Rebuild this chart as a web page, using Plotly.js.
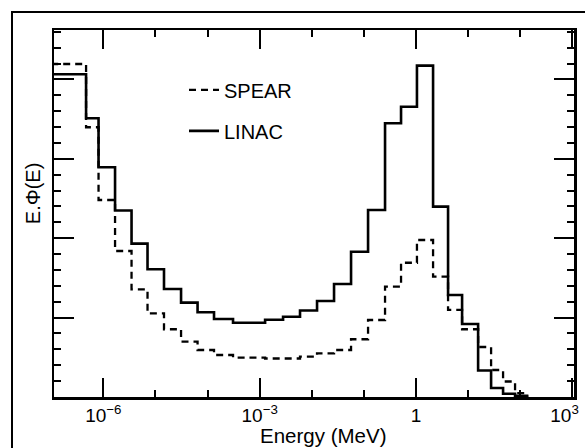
<!DOCTYPE html>
<html><head><meta charset="utf-8">
<script src="https://cdn.plot.ly/plotly-3.0.1.min.js"></script>
<style>
html,body{margin:0;padding:0;background:#fff;overflow:hidden;width:585px;height:448px}
#chart{position:absolute;left:0;top:0;width:585px;height:448px}
#frame{position:absolute;left:11px;top:11px;width:600px;height:500px;border-top:2.6px solid #000;border-left:2.6px solid #000;pointer-events:none}
</style>
</head><body><div id="chart"></div><div id="frame"></div>
<script>
// Bin edges of the spectra (MeV)
const binEdgesMeV = [1e-7, 4.67e-7, 8.1e-7, 1.68e-6, 3.48e-6, 7.05e-6, 1.46e-5, 3.10e-5, 6.43e-5, 1.33e-4,
  3.08e-4, 6.25e-4, 1.27e-3, 2.81e-3, 5.94e-3, 1.26e-2, 2.67e-2, 5.66e-2, 0.120, 0.254,
  0.515, 1.04, 2.12, 4.11, 7.64, 15.5, 27.5, 46.7, 79.3, 135];
// E.Phi(E) per bin (arbitrary units)
const spear = [4.194, 3.397, 2.481, 1.839, 1.356, 1.054, 0.853, 0.697, 0.592, 0.529,
  0.497, 0.495, 0.485, 0.485, 0.508, 0.550, 0.592, 0.727, 0.970, 1.389,
  1.691, 1.977, 1.515, 1.096, 0.853, 0.630, 0.340, 0.195, 0.050];
const linac = [4.064, 3.510, 2.893, 2.349, 1.931, 1.608, 1.360, 1.188, 1.067, 0.982,
  0.936, 0.936, 0.972, 1.011, 1.089, 1.209, 1.423, 1.830, 2.355, 3.447,
  3.656, 4.173, 2.397, 1.285, 0.919, 0.334, 0.113, 0.040, 0.015];
const seriesNames = ['SPEAR', 'LINAC'];
const majorTickVals = [1e-6, 1e-3, 1, 1e3];
const majorTickText = ['10<sup>−6</sup>', '10<sup>−3</sup>', '1', '10<sup>3</sup>\u00a0\u00a0\u00a0'];
const minorTickVals = [1e-7, 1e-6, 1e-5, 1e-4, 1e-3, 1e-2, 1e-1, 1, 10, 100, 1000];
const xTitle = 'Energy (MeV)';
const yTitle = 'E.Φ(E)';

const FONT = '"Liberation Sans", Arial, Helvetica, sans-serif';
function stepY(v) { return v.concat([0]); }

const traces = [
  {x: binEdgesMeV, y: stepY(spear), name: seriesNames[0], type: 'scatter', mode: 'lines',
   line: {shape: 'hv', color: '#000', width: 2.3, dash: '7px,5px'}, legendgroup: 'a'},
  {x: binEdgesMeV, y: stepY(linac), name: seriesNames[1], type: 'scatter', mode: 'lines',
   line: {shape: 'hv', color: '#000', width: 2.6}, legendgroup: 'b'}
];

const layout = {
  width: 585, height: 448,
  margin: {l: 54, r: 11, t: 30, b: 51},
  paper_bgcolor: '#fff', plot_bgcolor: '#fff',
  font: {family: FONT, color: '#000', size: 19},
  showlegend: true,
  legend: {x: 0.25, y: 0.89, xanchor: 'left', yanchor: 'top', bgcolor: 'rgba(0,0,0,0)',
    font: {size: 20}, traceorder: 'grouped', tracegroupgap: 12},
  xaxis: {
    type: 'log', range: [-6.946, 3.03],
    showline: true, linecolor: '#000', linewidth: 2.5, mirror: 'ticks',
    showgrid: false, zeroline: false,
    ticks: 'inside', ticklen: 19, tickwidth: 2, tickcolor: '#000',
    tickmode: 'array', tickvals: majorTickVals, ticktext: majorTickText,
    tickfont: {size: 19}, ticklabeloverflow: 'allow',
    minor: {tickmode: 'array', tickvals: minorTickVals, ticks: 'inside', ticklen: 7, tickwidth: 2, tickcolor: '#000', showgrid: false}
  },
  yaxis: {
    range: [0, 4.622],
    showline: true, linecolor: '#000', linewidth: 2.5, mirror: 'ticks',
    showgrid: false, zeroline: false,
    ticks: 'inside', ticklen: 20, tickwidth: 2, tickcolor: '#000',
    tick0: 0, dtick: 1, showticklabels: false,
    minor: {dtick: 0.2, ticks: 'inside', ticklen: 7, tickwidth: 2, tickcolor: '#000', showgrid: false}
  },
  annotations: [
    {text: xTitle, xref: 'paper', yref: 'paper', x: 0.518, y: -0.106, xanchor: 'center', yanchor: 'middle',
     showarrow: false, font: {size: 20.5}},
    {text: yTitle, xref: 'paper', yref: 'paper', x: -0.04, y: 0.556, xanchor: 'center', yanchor: 'middle',
     textangle: -90, showarrow: false, font: {size: 20}}
  ]
};

Plotly.newPlot('chart', traces, layout, {displayModeBar: false, staticPlot: true});
</script>
</body></html>
